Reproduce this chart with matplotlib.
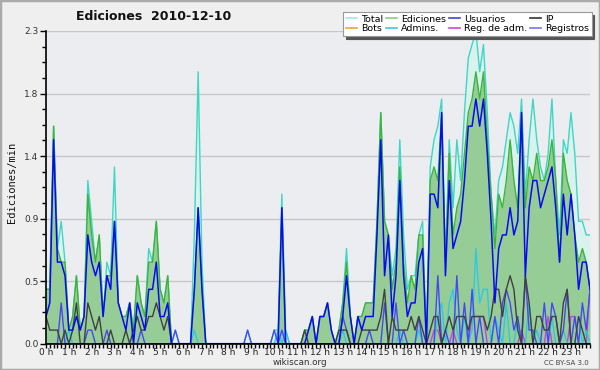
import numpy as np
import matplotlib
matplotlib.use("Agg")
import matplotlib.pyplot as plt
from matplotlib.lines import Line2D
from matplotlib.patches import Rectangle

# ---------------- data (edits per minute, 10-minute buckets) ----------------
usuarios = [
    0.2, 0.3, 1.5, 0.6, 0.6, 0.5, 0.1, 0.1, 0.2, 0.1, 0.2, 0.8,
    0.6, 0.5, 0.6, 0.2, 0.5, 0.4, 0.9, 0.3, 0.2, 0.1, 0.3, 0.0,
    0.3, 0.2, 0.1, 0.4, 0.4, 0.6, 0.2, 0.2, 0.3, 0.0, 0.0, 0.0,
    0.0, 0.0, 0.0, 0.4, 1.0, 0.4, 0.0, 0.0, 0.0, 0.0, 0.0, 0.0,
    0.0, 0.0, 0.0, 0.0, 0.0, 0.0, 0.0, 0.0, 0.0, 0.0, 0.0, 0.0,
    0.0, 0.0, 1.0, 0.0, 0.0, 0.0, 0.0, 0.0, 0.0, 0.1, 0.2, 0.0,
    0.2, 0.2, 0.3, 0.1, 0.0, 0.0, 0.2, 0.5, 0.2, 0.0, 0.2, 0.1,
    0.2, 0.2, 0.2, 0.8, 1.5, 0.5, 0.8, 0.2, 0.5, 1.2, 0.5, 0.2,
    0.3, 0.3, 0.6, 0.7, 0.0, 1.1, 1.1, 1.0, 1.7, 0.5, 1.2, 0.7,
    0.8, 0.9, 1.2, 1.6, 1.6, 1.8, 1.6, 1.8, 1.4, 0.9, 0.3, 0.7,
    0.8, 0.8, 1.0, 0.8, 0.9, 1.7, 0.5, 1.0, 1.2, 1.2, 1.0, 1.1,
    1.2, 1.3, 1.0, 0.6, 1.1, 0.8, 1.1, 0.8, 0.4, 0.6, 0.6, 0.4,
]
ip = [
    0.2, 0.1, 0.1, 0.1, 0.0, 0.1, 0.0, 0.1, 0.3, 0.0, 0.0, 0.3,
    0.2, 0.1, 0.2, 0.0, 0.0, 0.1, 0.0, 0.0, 0.0, 0.1, 0.0, 0.1,
    0.2, 0.1, 0.1, 0.2, 0.2, 0.3, 0.2, 0.1, 0.2, 0.0, 0.0, 0.0,
    0.0, 0.0, 0.0, 0.0, 0.0, 0.0, 0.0, 0.0, 0.0, 0.0, 0.0, 0.0,
    0.0, 0.0, 0.0, 0.0, 0.0, 0.0, 0.0, 0.0, 0.0, 0.0, 0.0, 0.0,
    0.0, 0.0, 0.0, 0.0, 0.0, 0.0, 0.0, 0.0, 0.1, 0.0, 0.0, 0.0,
    0.0, 0.0, 0.0, 0.0, 0.0, 0.1, 0.1, 0.1, 0.0, 0.0, 0.0, 0.1,
    0.1, 0.1, 0.1, 0.1, 0.2, 0.4, 0.0, 0.2, 0.1, 0.1, 0.1, 0.1,
    0.2, 0.1, 0.2, 0.1, 0.0, 0.1, 0.2, 0.2, 0.0, 0.1, 0.2, 0.1,
    0.2, 0.2, 0.2, 0.1, 0.2, 0.2, 0.2, 0.2, 0.1, 0.2, 0.4, 0.4,
    0.2, 0.4, 0.5, 0.4, 0.1, 0.0, 0.5, 0.3, 0.0, 0.2, 0.2, 0.1,
    0.1, 0.2, 0.2, 0.0, 0.3, 0.4, 0.0, 0.0, 0.2, 0.1, 0.0, 0.0,
]
ediciones = [
    0.4, 0.4, 1.6, 0.7, 0.6, 0.6, 0.1, 0.2, 0.5, 0.1, 0.2, 1.1,
    0.8, 0.6, 0.8, 0.2, 0.5, 0.5, 0.9, 0.3, 0.2, 0.2, 0.3, 0.1,
    0.5, 0.3, 0.2, 0.6, 0.6, 0.9, 0.4, 0.3, 0.5, 0.0, 0.0, 0.0,
    0.0, 0.0, 0.0, 0.4, 1.0, 0.4, 0.0, 0.0, 0.0, 0.0, 0.0, 0.0,
    0.0, 0.0, 0.0, 0.0, 0.0, 0.0, 0.0, 0.0, 0.0, 0.0, 0.0, 0.0,
    0.0, 0.0, 1.0, 0.0, 0.0, 0.0, 0.0, 0.0, 0.1, 0.1, 0.2, 0.0,
    0.2, 0.2, 0.3, 0.1, 0.0, 0.1, 0.3, 0.6, 0.2, 0.0, 0.2, 0.2,
    0.3, 0.3, 0.3, 0.9, 1.7, 0.9, 0.8, 0.4, 0.6, 1.3, 0.6, 0.3,
    0.5, 0.4, 0.8, 0.8, 0.0, 1.2, 1.3, 1.2, 1.7, 0.6, 1.4, 0.8,
    1.0, 1.1, 1.4, 1.7, 1.8, 2.0, 1.8, 2.0, 1.5, 1.1, 0.7, 1.1,
    1.0, 1.2, 1.5, 1.2, 1.0, 1.7, 1.0, 1.3, 1.2, 1.4, 1.2, 1.2,
    1.3, 1.5, 1.2, 0.6, 1.4, 1.2, 1.1, 0.8, 0.6, 0.7, 0.6, 0.4,
]
total = [
    0.4, 0.4, 1.6, 0.7, 0.9, 0.6, 0.1, 0.2, 0.5, 0.1, 0.2, 1.2,
    0.9, 0.6, 0.8, 0.2, 0.6, 0.5, 1.3, 0.3, 0.2, 0.2, 0.3, 0.1,
    0.5, 0.3, 0.2, 0.7, 0.6, 0.9, 0.4, 0.3, 0.5, 0.0, 0.1, 0.0,
    0.0, 0.0, 0.0, 0.8, 2.0, 0.6, 0.0, 0.0, 0.0, 0.0, 0.0, 0.0,
    0.0, 0.0, 0.0, 0.0, 0.0, 0.1, 0.0, 0.0, 0.0, 0.0, 0.0, 0.0,
    0.1, 0.1, 1.1, 0.1, 0.0, 0.0, 0.0, 0.0, 0.1, 0.1, 0.2, 0.0,
    0.2, 0.2, 0.3, 0.1, 0.0, 0.1, 0.3, 0.7, 0.2, 0.0, 0.2, 0.2,
    0.3, 0.3, 0.3, 0.9, 1.7, 0.9, 0.8, 0.5, 0.7, 1.5, 0.8, 0.4,
    0.5, 0.5, 0.8, 0.9, 0.0, 1.3, 1.5, 1.6, 1.8, 0.6, 1.5, 1.0,
    1.5, 1.2, 1.7, 2.1, 2.2, 2.3, 2.0, 2.2, 1.7, 1.1, 0.8, 1.2,
    1.3, 1.5, 1.7, 1.6, 1.4, 1.8, 1.1, 1.5, 1.8, 1.5, 1.3, 1.2,
    1.4, 1.8, 1.2, 0.8, 1.5, 1.4, 1.7, 1.4, 0.9, 0.9, 0.8, 0.8,
]
registros = [
    0.0, 0.0, 0.0, 0.0, 0.3, 0.0, 0.0, 0.0, 0.0, 0.0, 0.0, 0.1,
    0.1, 0.0, 0.0, 0.0, 0.1, 0.0, 0.0, 0.0, 0.0, 0.0, 0.0, 0.0,
    0.0, 0.1, 0.0, 0.0, 0.0, 0.0, 0.0, 0.0, 0.0, 0.0, 0.1, 0.0,
    0.0, 0.0, 0.0, 0.0, 0.0, 0.0, 0.0, 0.0, 0.0, 0.0, 0.0, 0.0,
    0.0, 0.0, 0.0, 0.0, 0.0, 0.1, 0.0, 0.0, 0.0, 0.0, 0.0, 0.0,
    0.1, 0.0, 0.1, 0.0, 0.0, 0.0, 0.0, 0.0, 0.0, 0.0, 0.0, 0.0,
    0.0, 0.0, 0.0, 0.0, 0.0, 0.0, 0.2, 0.1, 0.0, 0.0, 0.0, 0.0,
    0.0, 0.1, 0.0, 0.0, 0.0, 0.3, 0.0, 0.0, 0.3, 0.0, 0.1, 0.0,
    0.0, 0.0, 0.2, 0.0, 0.0, 0.0, 0.0, 0.5, 0.0, 0.1, 0.0, 0.0,
    0.5, 0.0, 0.3, 0.0, 0.4, 0.0, 0.2, 0.0, 0.0, 0.0, 0.2, 0.0,
    0.3, 0.4, 0.3, 0.1, 0.2, 0.0, 0.5, 0.1, 0.1, 0.0, 0.0, 0.3,
    0.0, 0.3, 0.2, 0.0, 0.1, 0.4, 0.0, 0.2, 0.0, 0.3, 0.1, 0.4,
]
admins = [
    0.0, 0.0, 0.0, 0.0, 0.0, 0.0, 0.1, 0.0, 0.0, 0.0, 0.0, 0.0,
    0.0, 0.0, 0.0, 0.0, 0.0, 0.0, 0.0, 0.0, 0.0, 0.0, 0.0, 0.0,
    0.0, 0.0, 0.0, 0.0, 0.0, 0.0, 0.0, 0.0, 0.0, 0.0, 0.0, 0.0,
    0.0, 0.0, 0.0, 0.1, 0.0, 0.0, 0.0, 0.0, 0.0, 0.0, 0.0, 0.0,
    0.0, 0.0, 0.0, 0.0, 0.0, 0.0, 0.0, 0.0, 0.0, 0.0, 0.0, 0.0,
    0.0, 0.1, 0.0, 0.1, 0.0, 0.0, 0.0, 0.0, 0.0, 0.0, 0.0, 0.0,
    0.0, 0.0, 0.0, 0.0, 0.0, 0.0, 0.1, 0.0, 0.0, 0.0, 0.0, 0.0,
    0.0, 0.0, 0.0, 0.0, 0.0, 0.0, 0.0, 0.0, 0.0, 0.1, 0.0, 0.0,
    0.0, 0.0, 0.1, 0.0, 0.0, 0.0, 0.0, 0.2, 0.3, 0.0, 0.3, 0.4,
    0.1, 0.0, 0.2, 0.0, 0.1, 0.7, 0.3, 0.4, 0.4, 0.0, 0.2, 0.1,
    0.0, 0.3, 0.0, 0.0, 0.2, 0.0, 0.0, 0.3, 0.0, 0.1, 0.0, 0.0,
    0.0, 0.2, 0.0, 0.0, 0.1, 0.0, 0.0, 0.0, 0.2, 0.0, 0.1, 0.0,
]
reg_adm = [
    0.0, 0.0, 0.0, 0.0, 0.0, 0.0, 0.0, 0.0, 0.0, 0.0, 0.0, 0.0,
    0.0, 0.0, 0.0, 0.0, 0.0, 0.0, 0.0, 0.0, 0.0, 0.0, 0.0, 0.0,
    0.0, 0.0, 0.0, 0.0, 0.0, 0.0, 0.0, 0.0, 0.0, 0.0, 0.0, 0.0,
    0.0, 0.0, 0.0, 0.0, 0.0, 0.0, 0.0, 0.0, 0.0, 0.0, 0.0, 0.0,
    0.0, 0.0, 0.0, 0.0, 0.0, 0.0, 0.0, 0.0, 0.0, 0.0, 0.0, 0.0,
    0.0, 0.0, 0.0, 0.0, 0.0, 0.0, 0.0, 0.0, 0.0, 0.0, 0.0, 0.0,
    0.0, 0.0, 0.0, 0.0, 0.0, 0.0, 0.0, 0.0, 0.0, 0.0, 0.0, 0.0,
    0.0, 0.0, 0.0, 0.0, 0.0, 0.0, 0.0, 0.0, 0.0, 0.0, 0.0, 0.0,
    0.0, 0.0, 0.0, 0.0, 0.0, 0.0, 0.1, 0.1, 0.0, 0.0, 0.0, 0.1,
    0.0, 0.0, 0.0, 0.0, 0.2, 0.2, 0.2, 0.2, 0.0, 0.0, 0.0, 0.0,
    0.0, 0.0, 0.0, 0.0, 0.0, 0.1, 0.0, 0.0, 0.0, 0.0, 0.0, 0.0,
    0.2, 0.0, 0.0, 0.0, 0.0, 0.0, 0.2, 0.2, 0.0, 0.0, 0.0, 0.4,
]
bots = [
    0.0, 0.0, 0.0, 0.0, 0.0, 0.0, 0.0, 0.0, 0.0, 0.0, 0.0, 0.0,
    0.0, 0.0, 0.0, 0.0, 0.0, 0.0, 0.0, 0.0, 0.0, 0.0, 0.0, 0.0,
    0.0, 0.0, 0.0, 0.0, 0.0, 0.0, 0.0, 0.0, 0.0, 0.0, 0.0, 0.0,
    0.0, 0.0, 0.0, 0.0, 0.0, 0.0, 0.0, 0.0, 0.0, 0.0, 0.0, 0.0,
    0.0, 0.0, 0.0, 0.0, 0.0, 0.0, 0.0, 0.0, 0.0, 0.0, 0.0, 0.0,
    0.0, 0.0, 0.0, 0.0, 0.0, 0.0, 0.0, 0.0, 0.0, 0.0, 0.0, 0.0,
    0.0, 0.0, 0.0, 0.0, 0.0, 0.0, 0.0, 0.0, 0.0, 0.0, 0.0, 0.0,
    0.0, 0.0, 0.0, 0.0, 0.0, 0.0, 0.0, 0.0, 0.0, 0.0, 0.0, 0.0,
    0.0, 0.0, 0.0, 0.0, 0.0, 0.0, 0.0, 0.0, 0.0, 0.0, 0.0, 0.0,
    0.0, 0.0, 0.0, 0.0, 0.0, 0.0, 0.0, 0.0, 0.0, 0.0, 0.0, 0.0,
    0.0, 0.0, 0.0, 0.0, 0.0, 0.0, 0.0, 0.0, 0.0, 0.0, 0.0, 0.0,
    0.0, 0.0, 0.0, 0.0, 0.0, 0.0, 0.0, 0.0, 0.0, 0.0, 0.0, 0.0,
]
hour_labels = [f"{h} h" for h in range(24)]
y_max = 2.3
title = "Ediciones  2010-12-10"

# ---------------- figure ----------------
plt.rcParams['font.family'] = ['DejaVu Sans']
fig = plt.figure(figsize=(6.0, 3.7), dpi=100, facecolor='#efefef')
ax = fig.add_axes([46/600, 1 - 343.7/370, 544/600, (343.7 - 31)/370])
ax.set_facecolor('#ecedf0')

x = np.arange(len(total)) / 6.0  # hours

# Total: light cyan fill + turquoise line
ax.fill_between(x, 0, total, color='#daf2ee', linewidth=0, zorder=1)
ax.plot(x, total, color='#3fd6c6', lw=1.0, zorder=2)
# Ediciones: green fill + line
ax.fill_between(x, 0, ediciones, color='#96cd96', linewidth=0, zorder=3)
ax.plot(x, ediciones, color='#3cb43c', lw=1.0, zorder=4)
# small series
ax.plot(x, bots, color='#f0a040', lw=1.0, zorder=1.5)
ax.plot(x, reg_adm, color='#c844d8', lw=1.0, zorder=5)
ax.plot(x, admins, color='#30c8e0', lw=1.0, zorder=5)
ax.plot(x, registros, color='#4848f0', lw=1.0, zorder=5)
ax.plot(x, ip, color='#404040', lw=1.0, zorder=6)
ax.plot(x, usuarios, color='#0a0af0', lw=1.1, zorder=7)

ax.set_xlim(0, x[-1])
ax.set_ylim(0, y_max)

# y ticks
yt = np.linspace(0, y_max, 6)
ax.set_yticks(yt)
ax.set_yticklabels([f"{v:.1f}" for v in yt], fontsize=6.5, color='#333333')
ax.set_yticks(np.linspace(0, y_max, 21), minor=True)
ax.yaxis.grid(True, which='major', color='#c8c8c8', lw=1.0, zorder=0)
ax.set_axisbelow(True)

# x ticks
ax.set_xticks(np.arange(24))
ax.set_xticklabels(hour_labels, fontsize=6.5, color='#222222')
ax.set_xticks(np.arange(0, len(total)) / 6.0, minor=True)
ax.tick_params(axis='x', which='major', length=2.6, width=1, pad=0.3, direction='out')
ax.tick_params(axis='x', which='minor', length=2.6, width=1, direction='out')
ax.tick_params(axis='y', which='major', length=4, width=1, pad=1.5, direction='out')
ax.tick_params(axis='y', which='minor', length=3, width=1, direction='out')

for s in ['top', 'right']:
    ax.spines[s].set_visible(False)
for s in ['left', 'bottom']:
    ax.spines[s].set_color('black')
    ax.spines[s].set_linewidth(1.2)
    ax.spines[s].set_zorder(10)

# texts
fig.text(154/600, 1 - 16/370, title, ha='center', va='center',
         fontsize=9, fontweight='bold', color='#111111')
fig.text(12/600, 1 - 182/370, "Ediciones/min", rotation=90, ha='center',
         va='center', fontsize=7.5, family='DejaVu Sans Mono', color='#111111')
fig.text(300/600, 1 - 362.5/370, "wikiscan.org", ha='center', va='center',
         fontsize=6.3, color='#333333')
fig.text(589/600, 1 - 363/370, "CC BY-SA 3.0", ha='right', va='center',
         fontsize=5, color='#444444')

# legend
names = ['Total', 'Bots', 'Ediciones', 'Admins.', 'Usuarios', 'Reg. de adm.', 'IP', 'Registros']
cols = ['#a8e8e0', '#f5a040', '#88d088', '#40c8e0', '#4444dd', '#cc44dd', '#333333', '#7777ee']
handles = [Line2D([0], [0], color=c, lw=1.2) for c in cols]
leg = fig.legend(handles, names, loc='upper right', bbox_to_anchor=(0.986, 0.968),
                 ncol=4, fontsize=6.8, frameon=True, fancybox=False,
                 shadow={'color': '#555555', 'alpha': 1.0},
                 handlelength=1.2, handletextpad=0.35, columnspacing=0.35,
                 labelspacing=0.05, borderpad=0.3, borderaxespad=0)
leg.get_frame().set_edgecolor('#999999')
leg.get_frame().set_linewidth(0.8)
leg.get_frame().set_facecolor('white')

# outer border
fig.patches.append(Rectangle((0, 0), 1, 1, transform=fig.transFigure,
                             fill=False, edgecolor='#aaaaaa', lw=2.5))

fig.savefig('out.png', dpi=100, facecolor=fig.get_facecolor())
